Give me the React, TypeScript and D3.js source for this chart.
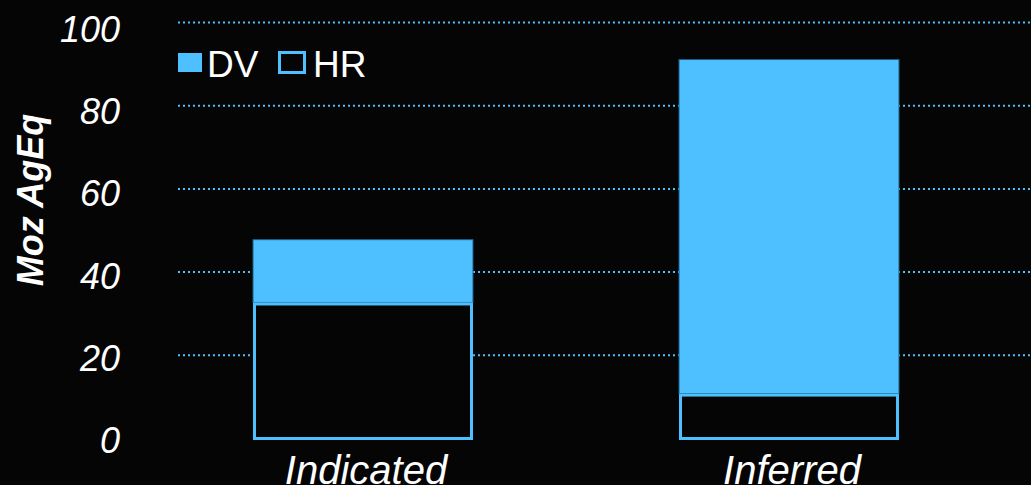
import React from "react";
import * as d3 from "d3";

const categories = ["Indicated", "Inferred"];
const hrValues = [32.7, 10.8];
const dvValues = [15.1, 80.3];
const yTicks = [0, 20, 40, 60, 80, 100];

const W = 1031;
const H = 485;
const BLUE = "#4EBFFF";
const FONT = "Liberation Sans, Arial, sans-serif";

export default function App() {
  const x = d3
    .scaleBand<string>()
    .domain(categories)
    .range([150, 1002])
    .paddingInner(0.4836)
    .paddingOuter(0.2418);
  const y = d3.scaleLinear().domain([0, 100]).range([438.5, 22.5]);
  const yLabel = d3.scaleLinear().domain([0, 100]).range([453, 42]);
  const bw = x.bandwidth();

  return (
    <svg
      width={W}
      height={H}
      style={{ position: "absolute", left: 0, top: 0, background: "#050505" }}
    >
      <rect x={0} y={0} width={W} height={H} fill="#050505" />
      {yTicks
        .filter((t) => t > 0)
        .map((t) => (
          <line
            key={t}
            x1={178}
            x2={W}
            y1={y(t)}
            y2={y(t)}
            stroke={BLUE}
            strokeWidth={2}
            strokeDasharray="2,3"
          />
        ))}
      {yTicks.map((t) => (
        <text
          key={t}
          x={120}
          y={yLabel(t)}
          textAnchor="end"
          fill="#fff"
          fontFamily={FONT}
          fontStyle="italic"
          fontSize={36}
        >
          {t}
        </text>
      ))}
      <text
        transform={`translate(43,200) rotate(-90)`}
        textAnchor="middle"
        fill="#fff"
        fontFamily={FONT}
        fontStyle="italic"
        fontWeight="bold"
        fontSize={36}
      >
        Moz AgEq
      </text>
      {categories.map((c, i) => {
        const x0 = x(c)!;
        const hr = hrValues[i];
        const tot = hr + dvValues[i];
        return (
          <g key={c}>
            <rect
              x={x0}
              y={y(tot)}
              width={bw}
              height={y(hr) - y(tot)}
              fill={BLUE}
              stroke="#1d5f86"
              strokeWidth={1}
            />
            <rect
              x={x0 + 1.5}
              y={y(hr) + 1.5}
              width={bw - 3}
              height={y(0) - y(hr) - 1.5}
              fill="#050505"
              stroke={BLUE}
              strokeWidth={3}
            />
            <text
              x={x0 + bw / 2 + 3}
              y={484}
              textAnchor="middle"
              fill="#fff"
              fontFamily={FONT}
              fontStyle="italic"
              fontSize={40}
            >
              {c}
            </text>
          </g>
        );
      })}
      <g fontFamily={FONT} fontSize={37} fill="#fff">
        <rect x={178} y={53} width={24} height={19} fill={BLUE} />
        <text x={207} y={76.5}>DV</text>
        <rect x={279.5} y={52.5} width={25} height={20} fill="none" stroke={BLUE} strokeWidth={3} />
        <text x={313} y={76.5}>HR</text>
      </g>
    </svg>
  );
}
